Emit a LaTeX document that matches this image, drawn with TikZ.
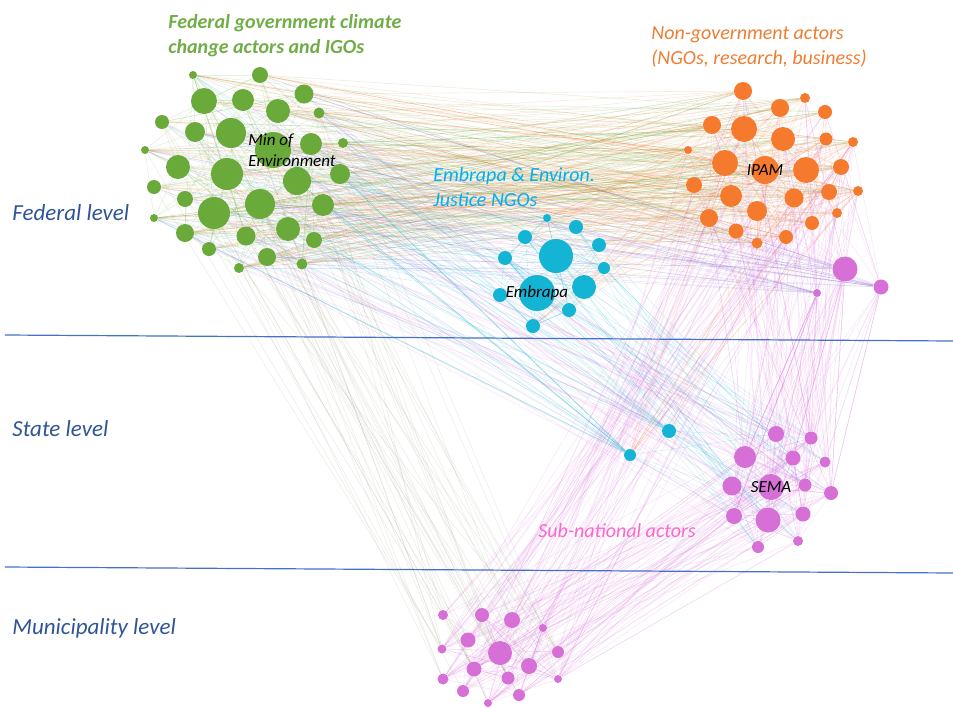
\documentclass[tikz,border=0pt]{standalone}
\usepackage{fontspec}
\setmainfont{Carlito}
\usetikzlibrary{backgrounds}

\definecolor{fedgreen}{RGB}{106,170,58}
\definecolor{ngoorange}{RGB}{245,122,46}
\definecolor{embblue}{RGB}{20,180,212}
\definecolor{subpink}{RGB}{214,112,214}
\definecolor{levelblue}{RGB}{47,85,151}
\definecolor{lineblue}{RGB}{68,114,196}
\definecolor{titlegreen}{RGB}{112,173,71}
\definecolor{titleorange}{RGB}{237,125,49}
\definecolor{titleblue}{RGB}{0,176,240}
\definecolor{titlepink}{RGB}{255,102,204}

\tikzset{
    actor/.style={circle, inner sep=0pt, minimum size=#1pt},
    gnode/.style={actor=#1, fill=fedgreen},
    onode/.style={actor=#1, fill=ngoorange},
    bnode/.style={actor=#1, fill=embblue},
    pnode/.style={actor=#1, fill=subpink},
    link/.style={line width=0.3pt, draw opacity=0.17},
    levellabel/.style={anchor=west, inner sep=0pt, text=levelblue, font=\fontsize{11.5}{13}\selectfont\itshape},
    grouplabel/.style={anchor=west, inner sep=0pt, align=left, font=\fontsize{10}{12.5}\selectfont\itshape},
    actorlabel/.style={inner sep=0pt, font=\fontsize{8.5}{10.5}\selectfont\itshape, align=left}
}

\begin{document}
\begin{tikzpicture}[x=0.5pt, y=-0.5pt]

    \useasboundingbox (0,0) rectangle (953,707);
    \pgfmathsetseed{2718}

    % Federal government actors and IGOs
    \foreach \n/\x/\y/\r in {1/193/75/4, 2/260/75/8, 3/204/101/13, 4/243/100/11,
        5/304/94/9.5, 6/278/111/12, 7/319/113/5.5, 8/162/122/7, 9/195/132/10,
        10/231/133/15, 11/273/150/18, 12/311/144/11, 13/343/143/5, 14/145/150/4,
        15/178/167/12, 16/227/174/16, 17/297/181/14, 18/340/174/10, 19/154/187/7,
        20/185/199/8, 21/214/213/16, 22/260/204/15, 23/323/205/11, 24/154/218/4,
        25/185/233/9, 26/246/236/9.5, 27/288/229/12, 28/314/240/8, 29/209/249/7,
        30/267/257/9, 31/239/268/5, 32/302/264/5.5}
        \node[gnode=\r] (g\n) at (\x,\y) {};

    % Non-government actors
    \foreach \n/\x/\y/\r in {1/743/91/9, 2/780/108/9, 3/805/98/5, 4/825/112/7,
        5/712/125/9, 6/744/129/13, 7/783/139/12, 8/826/139/6.5, 9/853/142/5,
        10/688/150/4, 11/725/163/13, 12/765/170/14, 13/806/170/13, 14/841/167/8,
        15/694/185/8, 16/731/196/11, 17/794/198/9.5, 18/829/192/8, 19/858/191/5,
        20/709/218/9, 21/757/211/10, 22/812/223/7, 23/837/213/5, 24/736/231/7.5,
        25/786/237/7, 26/757/243/5.5}
        \node[onode=\r] (o\n) at (\x,\y) {};

    % Embrapa and environmental justice NGOs
    \foreach \n/\x/\y/\r in {1/547/218/4, 2/576/227/7, 3/525/237/7, 4/556/256/17,
        5/599/245/7, 6/505/258/7, 7/604/268/6, 8/537/293/18, 9/584/287/12,
        10/500/295/7, 11/569/310/7, 12/533/326/7, 13/669/431/7, 14/630/455/6}
        \node[bnode=\r] (b\n) at (\x,\y) {};

    % Sub-national actors: federal, state, municipality
    \foreach \n/\x/\y/\r in {1/845/269/12.5, 2/881/287/7.5, 3/817/293/4}
        \node[pnode=\r] (p\n) at (\x,\y) {};
    \foreach \n/\x/\y/\r in {1/776/434/8, 2/811/438/6.5, 3/745/457/11,
        4/793/458/7.5, 5/825/462/5.5, 6/732/486/9.5, 7/771/487/13, 8/805/485/6.5,
        9/831/493/7, 10/734/516/8, 11/768/520/12.5, 12/803/514/7.5, 13/798/541/5,
        14/758/547/6}
        \node[pnode=\r] (s\n) at (\x,\y) {};
    \foreach \n/\x/\y/\r in {1/443/615/5, 2/482/615/7, 3/512/620/8, 4/543/628/4,
        5/468/640/7.5, 6/442/649/4.5, 7/500/653/12, 8/558/652/6, 9/474/669/7.5,
        10/529/666/8, 11/508/678/6.5, 12/443/679/5.5, 13/558/679/4, 14/463/691/6,
        15/519/695/6, 16/488/703/4}
        \node[pnode=\r] (m\n) at (\x,\y) {};

    % Ties (random sample, drawn behind the actors)
    \begin{scope}[on background layer]
        \foreach \k in {1,...,130}{
            \pgfmathrandominteger{\a}{1}{32}\pgfmathrandominteger{\b}{1}{26}
            \draw[link, fedgreen] (g\a) -- (o\b);
            \pgfmathrandominteger{\a}{1}{32}\pgfmathrandominteger{\b}{1}{26}
            \draw[link, ngoorange] (g\a) -- (o\b);
        }
        \foreach \k in {1,...,110}{
            \pgfmathrandominteger{\a}{1}{32}\pgfmathrandominteger{\b}{1}{32}
            \draw[link, fedgreen] (g\a) -- (g\b);
            \pgfmathrandominteger{\a}{1}{26}\pgfmathrandominteger{\b}{1}{26}
            \draw[link, ngoorange] (o\a) -- (o\b);
        }
        \foreach \k in {1,...,50}{
            \pgfmathrandominteger{\a}{1}{32}\pgfmathrandominteger{\b}{1}{14}
            \draw[link, embblue] (g\a) -- (b\b);
            \pgfmathrandominteger{\a}{1}{26}\pgfmathrandominteger{\b}{1}{14}
            \draw[link, ngoorange] (o\a) -- (b\b);
            \pgfmathrandominteger{\a}{1}{12}\pgfmathrandominteger{\b}{1}{12}
            \draw[link, embblue] (b\a) -- (b\b);
        }
        \foreach \k in {1,...,70}{
            \pgfmathrandominteger{\a}{1}{14}\pgfmathrandominteger{\b}{1}{14}
            \draw[link, subpink] (s\a) -- (s\b);
            \pgfmathrandominteger{\a}{1}{16}\pgfmathrandominteger{\b}{1}{16}
            \draw[link, subpink] (m\a) -- (m\b);
            \pgfmathrandominteger{\a}{1}{16}\pgfmathrandominteger{\b}{1}{14}
            \draw[link, subpink] (m\a) -- (s\b);
            \pgfmathrandominteger{\a}{1}{14}\pgfmathrandominteger{\b}{1}{26}
            \draw[link, subpink] (s\a) -- (o\b);
            \pgfmathrandominteger{\a}{1}{16}\pgfmathrandominteger{\b}{1}{26}
            \draw[link, subpink] (m\a) -- (o\b);
        }
        \foreach \k in {1,...,45}{
            \pgfmathrandominteger{\a}{1}{14}\pgfmathrandominteger{\b}{1}{32}
            \draw[link, subpink] (s\a) -- (g\b);
            \pgfmathrandominteger{\a}{1}{16}\pgfmathrandominteger{\b}{1}{32}
            \draw[link, fedgreen!60!subpink] (m\a) -- (g\b);
            \pgfmathrandominteger{\a}{1}{14}\pgfmathrandominteger{\b}{1}{14}
            \draw[link, embblue] (b\b) -- (s\a);
            \pgfmathrandominteger{\a}{1}{3}\pgfmathrandominteger{\b}{1}{32}
            \draw[link, lineblue!50!subpink] (p\a) -- (g\b);
            \pgfmathrandominteger{\a}{1}{3}\pgfmathrandominteger{\b}{1}{14}
            \draw[link, subpink] (p\a) -- (s\b);
        }
        \foreach \k in {1,...,25}{
            \pgfmathrandominteger{\a}{13}{14}\pgfmathrandominteger{\b}{1}{32}
            \draw[link, embblue] (b\a) -- (g\b);
            \pgfmathrandominteger{\a}{1}{3}\pgfmathrandominteger{\b}{1}{26}
            \draw[link, subpink] (p\a) -- (o\b);
        }
    \end{scope}

    % Actor names
    \node[actorlabel, anchor=west] (minenv) at (248,150) {Min of\\Environment};
    \node[actorlabel] (ipam) at (o12) {IPAM};
    \node[actorlabel] (embrapa) at (b8) {Embrapa};
    \node[actorlabel] (sema) at (s7) {SEMA};

    % Group names
    \node[grouplabel, text=titlegreen, font=\fontsize{10}{12.5}\selectfont\bfseries\itshape]
        (fedgroup) at (168,36) {Federal government climate\\change actors and IGOs};
    \node[grouplabel, text=titleorange] (ngogroup) at (651,47)
        {Non-government actors\\(NGOs, research, business)};
    \node[grouplabel, text=titleblue] (embgroup) at (433,187)
        {Embrapa \& Environ.\\Justice NGOs};
    \node[grouplabel, text=titlepink] (subgroup) at (538,531) {Sub-national actors};

    % Levels
    \draw[lineblue, line width=0.6pt] (5,335) -- (953,341);
    \draw[lineblue, line width=0.6pt] (5,567) -- (953,573);
    \node[levellabel] (fedlevel) at (12,213) {Federal level};
    \node[levellabel] (statelevel) at (12,429) {State level};
    \node[levellabel] (munlevel) at (12,628) {Municipality level};

\end{tikzpicture}
\end{document}
